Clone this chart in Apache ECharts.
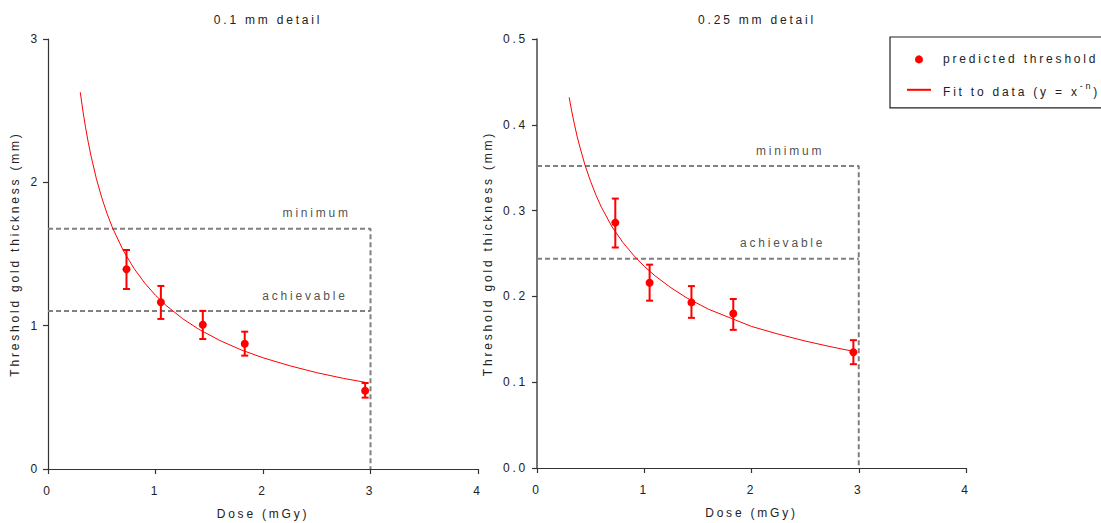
<!DOCTYPE html>
<html>
<head>
<meta charset="utf-8">
<script src="https://cdn.jsdelivr.net/npm/echarts@6/dist/echarts.min.js"></script>
<style>
  html, body { margin: 0; padding: 0; background: #fff; }
  #chart { width: 1101px; height: 523px; letter-spacing: 2.8px; }
</style>
</head>
<body>
<div id="chart"></div>
<script>
// ---------- data ----------
const dose = [0.73, 1.05, 1.44, 1.83, 2.95];

const leftMean  = [1.393, 1.163, 1.007, 0.874, 0.546];
const leftHigh  = [1.528, 1.277, 1.103, 0.958, 0.600];
const leftLow   = [1.256, 1.047, 0.907, 0.791, 0.498];

const rightMean = [0.286, 0.216, 0.193, 0.180, 0.135];
const rightHigh = [0.314, 0.237, 0.212, 0.197, 0.149];
const rightLow  = [0.257, 0.195, 0.175, 0.161, 0.121];

// fitted curve at these doses
const fitDose  = [0.3, 0.325, 0.35, 0.375, 0.4, 0.45, 0.5, 0.55, 0.6, 0.7, 0.8, 0.9, 1.0, 1.1, 1.25, 1.4, 1.6, 1.8, 2.0, 2.25, 2.5, 2.75, 2.95];
const leftFit  = [2.629, 2.497, 2.380, 2.277, 2.185, 2.025, 1.893, 1.780, 1.683, 1.524, 1.399, 1.297, 1.212, 1.140, 1.050, 0.976, 0.896, 0.830, 0.776, 0.720, 0.672, 0.632, 0.605];
const rightFit = [0.432, 0.415, 0.400, 0.386, 0.374, 0.352, 0.334, 0.318, 0.304, 0.281, 0.263, 0.248, 0.235, 0.224, 0.210, 0.198, 0.185, 0.175, 0.165, 0.156, 0.148, 0.141, 0.136];

const limitDose = 3;
const leftMinimum = 1.677, leftAchievable = 1.103;
const rightMinimum = 0.352, rightAchievable = 0.244;

const xTickLabels = ['0', '1', '2', '3', '4'];
const leftYTickLabels = ['0', '1', '2', '3'];
const rightYTickLabels = ['0.0', '0.1', '0.2', '0.3', '0.4', '0.5'];

const titles = ['0.1 mm detail', '0.25 mm detail'];
const xName = 'Dose (mGy)';
const yName = 'Threshold gold thickness (mm)';

// ---------- text measuring that includes letter spacing ----------
const LS = 2.8;
const mctx = document.createElement('canvas').getContext('2d');
if (echarts.setPlatformAPI) {
  echarts.setPlatformAPI({
    measureText: function (text, font) {
      mctx.font = font || '12px sans-serif';
      return { width: mctx.measureText(text).width + String(text).length * LS };
    }
  });
}

const FONT = "'Liberation Sans', Arial, sans-serif";
const TXT = '#222';
const RED = '#ff0000';
const DASH = '#808080';

function pairs(xs, ys) { return xs.map((x, i) => [x, ys[i]]); }
function errData(xs, lo, hi) { return xs.map((x, i) => [x, lo[i], hi[i]]); }

function errorBarSeries(idx, lo, hi) {
  return {
    type: 'custom', name: 'error', xAxisIndex: idx, yAxisIndex: idx,
    data: errData(dose, lo, hi),
    encode: { x: 0, y: [1, 2] },
    silent: true, z: 3,
    renderItem: function (params, api) {
      const x = api.value(0);
      const p1 = api.coord([x, api.value(1)]);
      const p2 = api.coord([x, api.value(2)]);
      const w = 3.5;
      const st = { stroke: RED, lineWidth: 2, fill: 'none' };
      return {
        type: 'group',
        children: [
          { type: 'line', shape: { x1: p1[0], y1: p1[1], x2: p2[0], y2: p2[1] }, style: st },
          { type: 'line', shape: { x1: p1[0] - w, y1: p1[1], x2: p1[0] + w, y2: p1[1] }, style: st },
          { type: 'line', shape: { x1: p2[0] - w, y1: p2[1], x2: p2[0] + w, y2: p2[1] }, style: st }
        ]
      };
    }
  };
}

function limitSeries(idx, minimum, achievable, minLabelX, achLabelX) {
  const ls = { color: DASH, width: 2, type: [5, 3] };
  return [
    { type: 'line', name: 'minimum-line', xAxisIndex: idx, yAxisIndex: idx, symbol: 'none', silent: true,
      data: [[0, minimum], [limitDose, minimum], [limitDose, 0]], lineStyle: ls, z: 1 },
    { type: 'line', name: 'achievable-line', xAxisIndex: idx, yAxisIndex: idx, symbol: 'none', silent: true,
      data: [[0, achievable], [limitDose, achievable]], lineStyle: ls, z: 1 },
    { type: 'scatter', name: 'limit-labels', xAxisIndex: idx, yAxisIndex: idx, symbolSize: 0, silent: true,
      data: [{ name: 'minimum', value: [minLabelX, minimum] }, { name: 'achievable', value: [achLabelX, achievable] }],
      label: { show: true, position: 'top', distance: 8, formatter: '{b}', color: TXT, fontSize: 12, fontFamily: FONT } }
  ];
}

function xAxis(idx) {
  return {
    type: 'value', gridIndex: idx, min: 0, max: 4, interval: 1,
    name: xName, nameLocation: 'middle', nameGap: 38,
    nameTextStyle: { color: TXT, fontSize: 12, fontFamily: FONT },
    axisLine: { lineStyle: { color: '#333', width: 1.2 } },
    axisTick: { show: true, length: 5, lineStyle: { color: '#333', width: 1.2 } },
    axisLabel: { color: TXT, fontSize: 12, fontFamily: FONT, margin: 15,
      formatter: v => xTickLabels[Math.round(v)] },
    splitLine: { show: false }
  };
}

const option = {
  animation: false,
  backgroundColor: '#fff',
  textStyle: { fontFamily: FONT },
  title: [
    { text: titles[0], left: 263, top: 8, textAlign: 'center',
      textStyle: { color: TXT, fontSize: 12, fontWeight: 'normal', fontFamily: FONT } },
    { text: titles[1], left: 752, top: 8, textAlign: 'center',
      textStyle: { color: TXT, fontSize: 12, fontWeight: 'normal', fontFamily: FONT } }
  ],
  legend: {
    left: 890, top: 37, orient: 'vertical',
    padding: [15, 90, 8, 17],
    itemWidth: 24, itemHeight: 8, itemGap: 13,
    borderColor: '#222', borderWidth: 1.2, borderRadius: 0,
    selectedMode: false,
    data: [
      { name: 'predicted threshold', icon: 'circle' },
      { name: 'Fit to data', icon: 'path://M0 0H24V2H0Z' }
    ],
    formatter: function (name) {
      return name === 'Fit to data' ? '{b|Fit to data (y = x}{s|-n}{b|)}' : '{a|predicted threshold}';
    },
    textStyle: {
      color: TXT, fontSize: 12, fontFamily: FONT, padding: [0, 0, 0, 7],
      rich: {
        a: { fontSize: 12, fontFamily: FONT, color: TXT, lineHeight: 16 },
        b: { fontSize: 12, fontFamily: FONT, color: TXT, lineHeight: 20, verticalAlign: 'bottom' },
        s: { fontSize: 9, fontFamily: FONT, color: TXT, lineHeight: 10, verticalAlign: 'top' }
      }
    }
  },
  grid: [
    { left: 48, right: 623, top: 39, bottom: 54, outerBoundsMode: 'none' },
    { left: 537, right: 135, top: 39, bottom: 55, outerBoundsMode: 'none' }
  ],
  xAxis: [xAxis(0), xAxis(1)],
  yAxis: [
    { type: 'value', gridIndex: 0, min: 0, max: 3, interval: 1,
      name: yName, nameLocation: 'middle', nameGap: 26,
      nameTextStyle: { color: TXT, fontSize: 12, fontFamily: FONT },
      axisLine: { show: true, lineStyle: { color: '#333', width: 1.2 } },
      axisTick: { show: true, length: 5, lineStyle: { color: '#333', width: 1.2 } },
      axisLabel: { color: TXT, fontSize: 12, fontFamily: FONT, margin: 8,
        formatter: v => leftYTickLabels[Math.round(v)] },
      splitLine: { show: false } },
    { type: 'value', gridIndex: 1, min: 0, max: 0.5, interval: 0.1,
      name: yName, nameLocation: 'middle', nameGap: 42,
      nameTextStyle: { color: TXT, fontSize: 12, fontFamily: FONT },
      axisLine: { show: true, lineStyle: { color: '#555', width: 1.6 } },
      axisTick: { show: true, length: 5, lineStyle: { color: '#333', width: 1.2 } },
      axisLabel: { color: TXT, fontSize: 12, fontFamily: FONT, margin: 9,
        formatter: v => rightYTickLabels[Math.round(v * 10)] },
      splitLine: { show: false } }
  ],
  series: [
    ...limitSeries(0, leftMinimum, leftAchievable, 2.5, 2.39),
    ...limitSeries(1, rightMinimum, rightAchievable, 2.36, 2.29),
    { type: 'line', name: 'Fit to data', xAxisIndex: 0, yAxisIndex: 0, symbol: 'none', smooth: false,
      data: pairs(fitDose, leftFit), lineStyle: { color: RED, width: 1 }, itemStyle: { color: RED }, z: 2 },
    { type: 'line', name: 'Fit to data', xAxisIndex: 1, yAxisIndex: 1, symbol: 'none', smooth: false,
      data: pairs(fitDose, rightFit), lineStyle: { color: RED, width: 1 }, itemStyle: { color: RED }, z: 2 },
    errorBarSeries(0, leftLow, leftHigh),
    errorBarSeries(1, rightLow, rightHigh),
    { type: 'scatter', name: 'predicted threshold', xAxisIndex: 0, yAxisIndex: 0, symbol: 'circle', symbolSize: 8,
      data: pairs(dose, leftMean), itemStyle: { color: RED, opacity: 1 }, z: 4 },
    { type: 'scatter', name: 'predicted threshold', xAxisIndex: 1, yAxisIndex: 1, symbol: 'circle', symbolSize: 8,
      data: pairs(dose, rightMean), itemStyle: { color: RED, opacity: 1 }, z: 4 }
  ]
};

const chart = echarts.init(document.getElementById('chart'), null, { renderer: 'svg', width: 1101, height: 523 });
chart.setOption(option);
</script>
</body>
</html>
